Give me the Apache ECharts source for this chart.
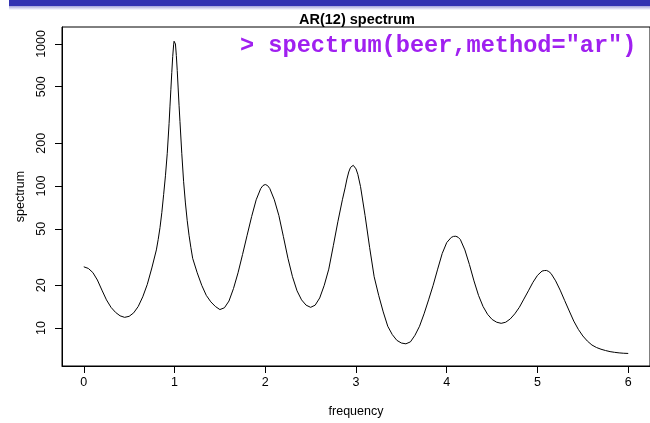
<!DOCTYPE html>
<html>
<head>
<meta charset="utf-8">
<script src="https://cdn.jsdelivr.net/npm/echarts@6/dist/echarts.min.js"></script>
<style>
  html, body { margin: 0; padding: 0; background: #fff; }
  #chart { width: 650px; height: 423px; }
</style>
</head>
<body>
<div id="chart"></div>
<script>
// AR(12) spectral density estimate of the beer series
const frequency = [
  0.00, 0.05, 0.10, 0.15, 0.20, 0.25, 0.30, 0.35, 0.40, 0.45,
  0.50, 0.55, 0.60, 0.65, 0.70, 0.75, 0.80, 0.82, 0.84, 0.86,
  0.88, 0.90, 0.92, 0.94, 0.95, 0.96, 0.97, 0.98, 0.99, 0.995,
  1.00, 1.005, 1.01, 1.02, 1.03, 1.04, 1.05, 1.06, 1.08, 1.10,
  1.12, 1.14, 1.16, 1.18, 1.20, 1.25, 1.30, 1.35, 1.40, 1.45,
  1.50, 1.55, 1.60, 1.65, 1.70, 1.75, 1.80, 1.85, 1.90, 1.95,
  1.975, 2.00, 2.025, 2.05, 2.10, 2.15, 2.20, 2.25, 2.30, 2.35,
  2.40, 2.45, 2.50, 2.55, 2.60, 2.65, 2.70, 2.75, 2.80, 2.85,
  2.88, 2.90, 2.92, 2.94, 2.95, 2.96, 2.97, 2.98, 2.99, 3.00,
  3.02, 3.05, 3.10, 3.15, 3.20, 3.25, 3.30, 3.35, 3.40, 3.45,
  3.50, 3.55, 3.60, 3.65, 3.70, 3.75, 3.80, 3.85, 3.90, 3.95,
  4.00, 4.05, 4.075, 4.10, 4.125, 4.15, 4.20, 4.25, 4.30, 4.35,
  4.40, 4.45, 4.50, 4.55, 4.60, 4.65, 4.70, 4.75, 4.80, 4.85,
  4.90, 4.95, 5.00, 5.05, 5.075, 5.10, 5.125, 5.15, 5.20, 5.25,
  5.30, 5.35, 5.40, 5.45, 5.50, 5.55, 5.60, 5.65, 5.70, 5.75,
  5.80, 5.85, 5.90, 5.95, 6.00
];
const spectrum = [
  27.0, 26.3, 24.6, 21.8, 18.5, 15.8, 14.0, 12.9, 12.2, 11.9,
  12.1, 12.8, 14.2, 16.6, 20.3, 26.5, 35.5, 42, 51, 65,
  87, 118, 170, 275, 365, 480, 630, 815, 985, 1045,
  1074, 1050, 1000, 830, 650, 490, 370, 285, 170, 108,
  76, 57, 45, 37, 31, 24.5, 20.0, 17.0, 15.3, 14.2,
  13.5, 13.9, 15.5, 19.0, 24.5, 33, 45, 61, 80, 96,
  100.8, 102.5, 100.8, 96, 80, 62, 44, 31, 23, 18.3,
  15.8, 14.5, 14.0, 14.5, 16.3, 20.0, 26, 38, 56, 80,
  97, 112, 125.6, 135.3, 138.2, 139.7, 139.9, 138.6, 136, 132,
  121, 99, 62, 37, 23, 17, 13, 10.3, 9.0, 8.2,
  7.85, 7.75, 8.0, 8.9, 10.3, 12.6, 15.8, 20, 26, 33.5,
  40, 43.5, 44.2, 44.3, 43.6, 42, 35.5, 28, 21.5, 17,
  14.2, 12.5, 11.5, 11.0, 10.8, 11.0, 11.6, 12.6, 14.0, 16.0,
  18.3, 21, 23.5, 25.2, 25.4, 25.45, 25.0, 24.2, 21.5, 18.5,
  15.6, 13.2, 11.2, 9.8, 8.8, 8.1, 7.6, 7.3, 7.1, 6.95,
  6.83, 6.75, 6.69, 6.65, 6.63
];
const xTicks = [0, 1, 2, 3, 4, 5, 6];
const yTicks = [10, 20, 50, 100, 200, 500, 1000];

const titleText = 'AR(12) spectrum';
const commandText = '> spectrum(beer,method="ar")';
const xName = 'frequency';
const yName = 'spectrum';

// axis ranges padded by 4% each side (log scale for y)
const fMin = Math.min(...frequency), fMax = Math.max(...frequency);
const fPad = 0.04 * (fMax - fMin);
const lLo = Math.log10(Math.min(...spectrum)), lHi = Math.log10(Math.max(...spectrum));
const lPad = 0.04 * (lHi - lLo);

const points = frequency.map((f, i) => [f, spectrum[i]]);
const font = 'Liberation Sans, Arial, Helvetica, sans-serif';
const plain = v => String(Math.round(v));
const axisStroke = { color: '#000', width: 1 };

const chart = echarts.init(document.getElementById('chart'), null, { renderer: 'canvas' });
chart.setOption({
  animation: false,
  backgroundColor: '#ffffff',
  grid: {
    left: 62, top: 27, right: -3, bottom: 57,
    show: true, borderColor: '#000', borderWidth: 1, backgroundColor: 'transparent'
  },
  xAxis: {
    type: 'value',
    position: 'bottom',
    min: fMin - fPad,
    max: fMax + fPad,
    name: xName,
    nameLocation: 'middle',
    nameGap: 39,
    nameTextStyle: { fontFamily: font, fontSize: 12.5, color: '#000' },
    axisLine: { show: true, onZero: false, lineStyle: axisStroke },
    axisTick: { show: true, inside: false, customValues: xTicks, length: 7, lineStyle: axisStroke },
    axisLabel: { customValues: xTicks, formatter: plain, fontFamily: font, fontSize: 12.5, color: '#000', margin: 10 },
    splitLine: { show: false }
  },
  yAxis: {
    type: 'log',
    logBase: 10,
    position: 'left',
    min: Math.pow(10, lLo - lPad),
    max: Math.pow(10, lHi + lPad),
    name: yName,
    nameLocation: 'middle',
    nameGap: 35,
    nameRotate: 90,
    nameTextStyle: { fontFamily: font, fontSize: 12.5, color: '#000' },
    axisLine: { show: true, onZero: false, lineStyle: axisStroke },
    axisTick: { show: true, inside: false, customValues: yTicks, length: 7, lineStyle: axisStroke },
    axisLabel: { customValues: yTicks, formatter: plain, rotate: 90, fontFamily: font, fontSize: 12.5, color: '#000', margin: 14 },
    splitLine: { show: false }
  },
  series: [{
    type: 'line',
    data: points,
    showSymbol: false,
    smooth: false,
    lineStyle: { color: '#000', width: 1 },
    clip: true
  }],
  graphic: [
    // slide header band
    { type: 'rect', shape: { x: 9, y: 0, width: 641, height: 6 }, style: { fill: '#3333b2' }, silent: true },
    { type: 'rect', shape: { x: 9, y: 6, width: 641, height: 4 },
      style: { fill: new echarts.graphic.LinearGradient(0, 0, 0, 1, [
        { offset: 0, color: 'rgba(51,51,178,0.45)' },
        { offset: 1, color: 'rgba(51,51,178,0)' }
      ]) }, silent: true },
    { type: 'text', x: 357, y: 19.5,
      style: { text: titleText, font: 'bold 14.5px ' + font, fill: '#000', textAlign: 'center', textVerticalAlign: 'middle' } },
    { type: 'text', x: 240, y: 46.5,
      style: { text: commandText, font: 'bold 23.6px "Liberation Mono", "Courier New", monospace', fill: '#a020f0', textAlign: 'left', textVerticalAlign: 'middle' } }
  ]
});
</script>
</body>
</html>
